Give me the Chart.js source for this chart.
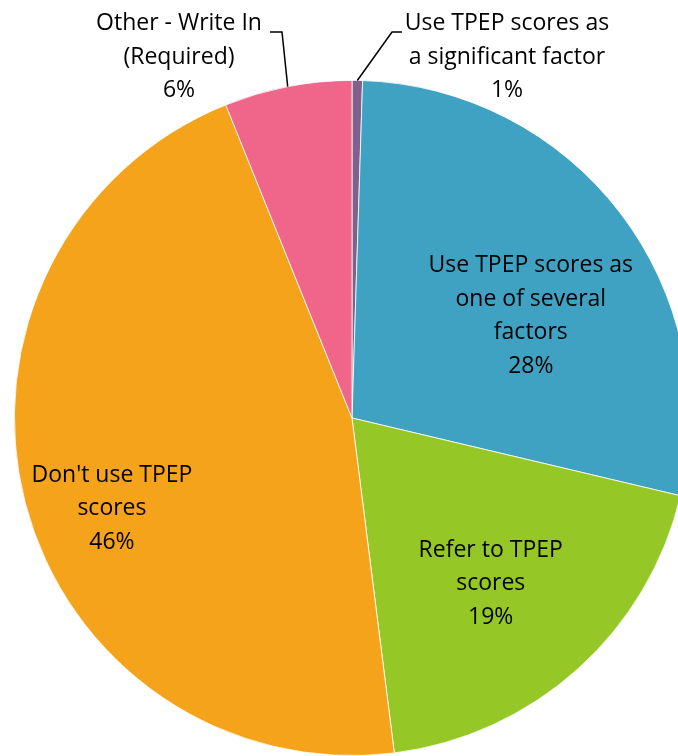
<!DOCTYPE html>
<html>
<head>
<meta charset="utf-8">
<script src="https://cdn.jsdelivr.net/npm/chart.js@4"></script>
<style>
  html, body { margin: 0; padding: 0; background: #fff; overflow: hidden; }
  #wrap { width: 678px; height: 756px; overflow: hidden; position: relative; }
  #pie { position: absolute; left: 0; top: 0; }
</style>
</head>
<body>
<div id="wrap">
  <canvas id="pie" width="704" height="756"></canvas>
</div>
<script>
// slices go clockwise from 12 o'clock
const categories = [
    'Use TPEP scores as a significant factor',
    'Use TPEP scores as one of several factors',
    'Refer to TPEP scores',
    "Don't use TPEP scores",
    'Other - Write In (Required)'
];
const labelLines = [
    ['Use TPEP scores as', 'a significant factor'],
    ['Use TPEP scores as', 'one of several', 'factors'],
    ['Refer to TPEP', 'scores'],
    ["Don't use TPEP", 'scores'],
    ['Other - Write In', '(Required)']
];
const percents = [0.5, 28.2, 19.3, 45.9, 6.1];
const sliceColors = ['#80608C', '#3FA2C2', '#95C826', '#F5A31A', '#F0668A'];

const sliceLabels = {
    id: 'sliceLabels',
    afterDatasetsDraw(chart, args, opts)
    {
        const ctx = chart.ctx;
        const meta = chart.getDatasetMeta(0);
        const vals = chart.data.datasets[0].data;
        const total = vals.reduce((a, b) => a + b, 0);

        ctx.save();
        ctx.font = opts.font;
        ctx.fillStyle = '#000';
        ctx.strokeStyle = '#000';
        ctx.lineWidth = 1.5;
        ctx.textAlign = 'center';
        ctx.textBaseline = 'middle';

        meta.data.forEach((arc, i) => {
            const p = opts.place[i];
            const mid = (arc.startAngle + arc.endAngle) / 2;
            const lines = labelLines[i].concat(Math.round(vals[i] / total * 100) + '%');
            let x, y;
            if (p.out) {
                x = arc.x + p.dx;
                y = arc.y + p.dy;
                // leader line from the rim to the text
                ctx.beginPath();
                ctx.moveTo(arc.x + Math.cos(mid) * arc.outerRadius, arc.y + Math.sin(mid) * arc.outerRadius);
                ctx.lineTo(arc.x + p.elbow[0], arc.y + p.elbow[1]);
                ctx.lineTo(arc.x + p.end[0], arc.y + p.end[1]);
                ctx.stroke();
            } else {
                const a = mid + p.shift * Math.PI / 180;
                x = arc.x + Math.cos(a) * arc.outerRadius * p.r;
                y = arc.y + Math.sin(a) * arc.outerRadius * p.r;
            }
            const lh = opts.lineHeight;
            const top = y - (lines.length - 1) * lh / 2;
            lines.forEach((t, k) => ctx.fillText(t, x, top + k * lh));
        });
        ctx.restore();
    }
};

const ctx = document.getElementById('pie').getContext('2d');
const myChart = new Chart(ctx, {
    type: 'pie',
    data: {
        labels: categories,
        datasets: [{
            data: percents,
            backgroundColor: sliceColors,
            borderColor: '#fff',
            borderWidth: 0.8
        }]
    },
    options: {
        responsive: false,
        animation: false,
        devicePixelRatio: 1,
        layout: { padding: { top: 80, bottom: 0, left: 0, right: 0 } },
        plugins: {
            legend: { display: false },
            tooltip: { enabled: false },
            sliceLabels: {
                font: '23px "Open Sans", Lato, sans-serif',
                lineHeight: 33.5,
                place: [
                    { out: true, dx: 155, dy: -361, elbow: [40, -386], end: [50, -386] },
                    { r: 0.61, shift: 7.7 },
                    { r: 0.64, shift: 2.0 },
                    { r: 0.76, shift: -6.1 },
                    { out: true, dx: -173, dy: -361, elbow: [-70, -386], end: [-82, -386] }
                ]
            }
        }
    },
    plugins: [sliceLabels]
});
</script>
</body>
</html>
